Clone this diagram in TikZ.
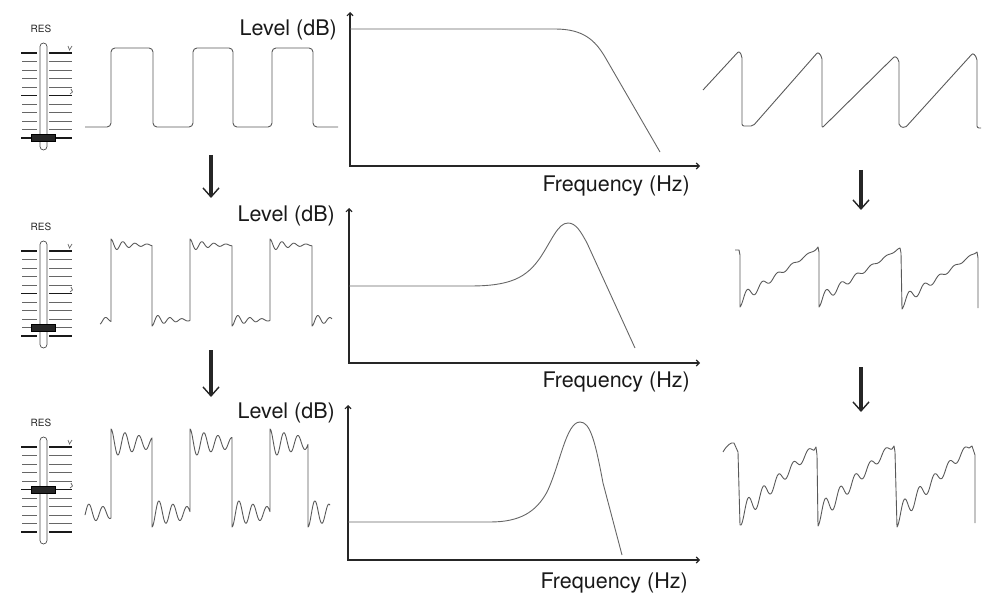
\documentclass[tikz,border=0pt]{standalone}
\usepackage{fontspec}
\setmainfont{TeX Gyre Heros}
\usetikzlibrary{arrows.meta}
% ringing segment: domain start, domain end, edge position, level, sign, amplitude, decay
\newcommand\rs[7]{plot[domain=#1:#2,samples=70,smooth] (\x,{#4+(#5)*(#6)*exp(-(#7)*(\x-(#3)))*cos((360/\ringP)*(\x-(#3)))})}
\newcommand\rsc[7]{-- plot[domain=#1:#2,samples=70,smooth] (\x,{#4+(#5)*(#6)*exp(-(#7)*(\x-(#3)))*cos((360/\ringP)*(\x-(#3)))})}
% sawtooth ramp with ringing (joined by a line): x bottom, x peak, y bottom, y peak, amplitude, decay, period
\newcommand\sr[7]{-- plot[domain=#1:#2,samples=90,smooth] (\x,{#3+(((#4)-(#3))/((#2)-(#1)))*(\x-(#1))+(#5)*exp(-(#6)*(\x-(#1)))*cos((360/(#7))*(\x-(#1)))})}
% slider: first tick y, knob index, name
\newcommand\resslider[3]{%
  \node[reslbl] (res#3) at (41,#1-24) {RES};
  \foreach \i in {0,...,10}{%
    \draw[tick] (22,#1+8.5*\i) -- (37,#1+8.5*\i);
    \draw[tick] (49,#1+8.5*\i) -- (72,#1+8.5*\i);
  }
  \foreach \i in {0,5,10}{%
    \draw[heavy] (21,#1+8.5*\i) -- (37,#1+8.5*\i);
    \draw[heavy] (49,#1+8.5*\i) -- (72,#1+8.5*\i);
  }
  \draw[tick] (68,#1-7) -- (69.5,#1-3) -- (72,#1-7);
  \draw[tick] (71,#1+36) -- (72.5,#1+39) -- (70,#1+41);
  \draw[track] (40,#1-10) rectangle (47,#1+97);
  \draw[knob] (31,#1+8.5*#2-3.5) rectangle (55,#1+8.5*#2+3.5);
}
\tikzset{
  tick/.style={black!60, line width=0.7pt},
  heavy/.style={black!90, line width=1.1pt},
  track/.style={black!70, line width=0.7pt, fill=white, rounded corners=3.5pt},
  knob/.style={fill=black!85, draw=black, line width=0.5pt},
  reslbl/.style={font=\fontsize{10}{12}\selectfont, inner sep=0pt, text=black!85},
  wave/.style={black!65, line width=0.9pt, line join=round},
  curve/.style={black!60, line width=0.9pt},
  axis/.style={black!85, line width=1.1pt,
    {Straight Barb[length=3pt,width=6pt]}-{Straight Barb[length=3pt,width=6pt]}},
  lbl/.style={font=\fontsize{21.5}{25}\selectfont, inner sep=0pt, anchor=east, text=black!90},
  bigarrow/.style={black!85, line width=3.5pt,
    -{Straight Barb[length=9pt,width=16pt,line width'=1.4pt]}}
}
\begin{document}
\begin{tikzpicture}[x=1pt,y=-1pt]
\useasboundingbox (0,0) rectangle (983,596);

% ---------- sliders ----------
\resslider{53}{10}{1}
\resslider{251}{9}{2}
\resslider{447}{5}{3}

% ---------- square waves ----------
\draw[wave, rounded corners=4pt] (85,127) -- (111,127) -- (111,48) -- (153,48) -- (153,127)
  -- (193,127) -- (193,48) -- (233,48) -- (233,127) -- (272,127) -- (272,48)
  -- (313,48) -- (313,127) -- (338,127);

\def\ringP{12}
\draw[wave] \rs{100}{111}{100}{320}{1}{4}{0.08}
  \rsc{111}{152}{111}{245}{-1}{6}{0.05}
  \rsc{152}{190}{152}{320}{1}{6}{0.05}
  \rsc{190}{232}{190}{245}{-1}{6}{0.05}
  \rsc{232}{270}{232}{320}{1}{6}{0.05}
  \rsc{270}{312}{270}{245}{-1}{6}{0.05}
  \rsc{312}{332}{312}{320}{1}{6}{0.05};

\def\ringP{14}
\draw[wave] \rs{85}{111}{68}{513}{1}{14}{0.022}
  \rsc{111}{152}{111}{443}{-1}{14}{0.022}
  \rsc{152}{190}{152}{513}{1}{14}{0.022}
  \rsc{190}{232}{190}{443}{-1}{14}{0.022}
  \rsc{232}{270}{232}{513}{1}{14}{0.022}
  \rsc{270}{308}{270}{443}{-1}{14}{0.022}
  \rsc{308}{330}{308}{513}{1}{14}{0.022};

% ---------- level labels ----------
\node[lbl] (lev1) at (337,30) {Level (dB)};
\node[lbl] (lev2) at (335,216) {Level (dB)};
\node[lbl] (lev3) at (335,413) {Level (dB)};

% ---------- axes ----------
\coordinate (t1) at (350,12);  \coordinate (o1) at (350,166); \coordinate (r1) at (700,166);
\coordinate (t2) at (349,208); \coordinate (o2) at (349,363); \coordinate (r2) at (700,363);
\coordinate (t3) at (348,405); \coordinate (o3) at (348,560); \coordinate (r3) at (700,560);
\draw[axis] (t1) -- (o1) -- (r1);
\draw[axis] (t2) -- (o2) -- (r2);
\draw[axis] (t3) -- (o3) -- (r3);

% ---------- response curves ----------
\draw[curve] (350,29) -- (555,29) .. controls (583,29) and (595,40) .. (605,57) -- (660,152);
\draw[curve] (349,286) -- (470,286) .. controls (510,286) and (526,278) .. (540,258)
  .. controls (552,240) and (558,223) .. (568,223)
  .. controls (576,223) and (581,232) .. (587,243) -- (635,348);
\draw[curve] (348,522) -- (490,522) .. controls (520,522) and (536,512) .. (547,492)
  .. controls (560,465) and (566,422) .. (580,422)
  .. controls (590,422) and (595,440) .. (603,483) -- (622,555);

% ---------- frequency labels ----------
\node[lbl] (freq1) at (690,186) {Frequency (Hz)};
\node[lbl] (freq2) at (690,382) {Frequency (Hz)};
\node[lbl] (freq3) at (688,583) {Frequency (Hz)};

% ---------- sawtooth waves ----------
\draw[wave, rounded corners=2pt] (703,90) -- (739,51) -- (742,56) -- (742,126) -- (753,126)
  -- (818,52) -- (822,57) -- (822,128) -- (895,56) -- (899,60) -- (899,126) -- (905,128)
  -- (973,53) -- (977,58) -- (977,128) -- (981,128);

\draw[wave] (735,250) -- (739,250) -- (740,255)
  \sr{740}{816}{300}{249}{7}{0.03}{15} -- (818,247) -- (819,252)
  \sr{819}{898}{300}{249}{7}{0.03}{15} -- (900,248) -- (901,253)
  \sr{902}{975}{302}{253}{7}{0.03}{15} -- (977,252) -- (978,258) -- (978,308);

\draw[wave] (723,452) .. controls (727,445) and (731,442) .. (734,443) -- (738,452) -- (740,525)
  \sr{741}{814}{514}{448}{11}{0.016}{15} -- (816,447) -- (817,455)
  \sr{818}{892}{515}{446}{11}{0.016}{15} -- (894,446) -- (895,452)
  \sr{897}{969}{516}{447}{11}{0.016}{15} -- (972,446) -- (975,455) -- (975,523);

% ---------- arrows ----------
\coordinate (la1s) at (211,155); \coordinate (la1e) at (211,198);
\coordinate (la2s) at (211,350); \coordinate (la2e) at (211,397);
\coordinate (ra1s) at (861,170); \coordinate (ra1e) at (861,210);
\coordinate (ra2s) at (861,367); \coordinate (ra2e) at (861,412);
\draw[bigarrow] (la1s) -- (la1e);
\draw[bigarrow] (la2s) -- (la2e);
\draw[bigarrow] (ra1s) -- (ra1e);
\draw[bigarrow] (ra2s) -- (ra2e);
\end{tikzpicture}
\end{document}
